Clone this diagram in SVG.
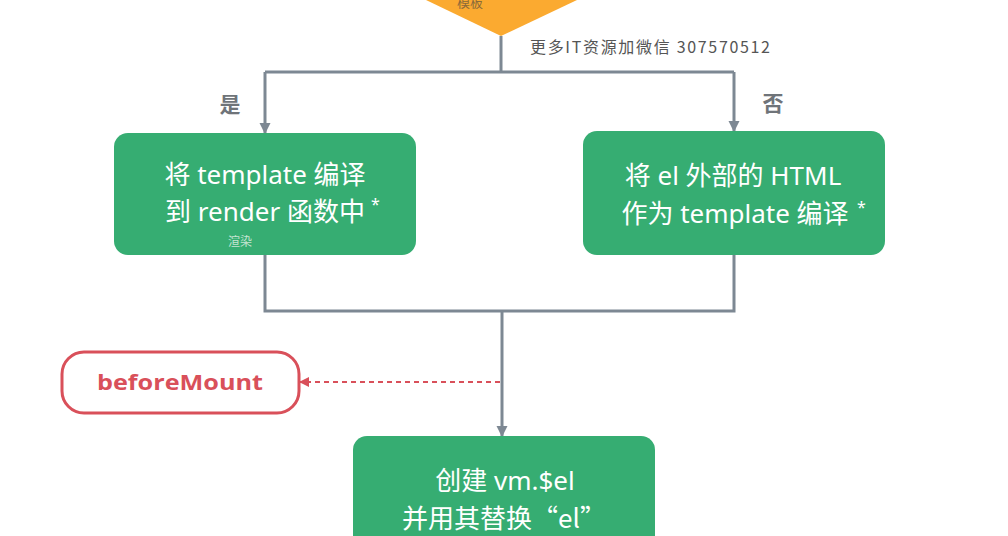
<svg xmlns="http://www.w3.org/2000/svg" width="1008" height="536" viewBox="0 0 1008 536">
<style>
.conn{fill:none;stroke:#7d8893;stroke-width:3}
.box{fill:#36ad72}
.bt{font-family:"Noto Sans","Noto Sans CJK SC",sans-serif;font-size:26px;fill:#ffffff;text-anchor:middle}
.star{font-family:"Noto Sans",sans-serif;font-size:16px;fill:#ffffff}
.lbl{font-family:"Noto Sans CJK SC",sans-serif;font-size:21px;font-weight:bold;fill:#6f7479;text-anchor:middle}
</style>
<defs>
<marker id="ag" viewBox="0 0 10 10" refX="9" refY="5" markerWidth="11" markerHeight="12" markerUnits="userSpaceOnUse" orient="auto"><path d="M0,0 L10,5 L0,10 z" fill="#7d8893"/></marker>
<marker id="ar" viewBox="0 0 10 10" refX="9" refY="5" markerWidth="10" markerHeight="11" markerUnits="userSpaceOnUse" orient="auto"><path d="M0,0 L10,5 L0,10 z" fill="#d9505a"/></marker>
</defs>
<rect width="1008" height="536" fill="#ffffff"/>
<g id="decision">
<polygon points="426,0 577,0 501,36" fill="#fbaa30"/>
<text x="470" y="7" font-family="Noto Sans CJK SC,sans-serif" font-size="13" fill="#8a6a3a" text-anchor="middle">模板</text>
</g>
<text x="530" y="53" font-family="Noto Sans CJK SC,sans-serif" font-size="16" fill="#555555" textLength="240" lengthAdjust="spacing">更多IT资源加微信 307570512</text>
<g id="connectors">
<path class="conn" d="M501,36 V72"/>
<path class="conn" d="M265,72 H734"/>
<path class="conn" d="M265,72 V133" marker-end="url(#ag)"/>
<path class="conn" d="M734,72 V131" marker-end="url(#ag)"/>
<path class="conn" d="M265,255 V311 H734 V255"/>
<path class="conn" d="M502,311 V436" marker-end="url(#ag)"/>
<path d="M500,382 H300" fill="none" stroke="#d9505a" stroke-width="2" stroke-dasharray="5,4" marker-end="url(#ar)"/>
<text x="230" y="112" class="lbl">是</text>
<text x="773" y="111" class="lbl">否</text>
</g>
<g id="left">
<rect class="box" x="114" y="133" width="302" height="122" rx="14"/>
<text class="bt" x="265" y="184">将 template 编译</text>
<text class="bt" x="265" y="221">到 render 函数中</text>
<text class="star" x="371" y="210">*</text>
<text x="240" y="246" font-family="Noto Sans CJK SC,sans-serif" font-size="12" fill="#c6e4d2" text-anchor="middle">渲染</text>
</g>
<g id="right">
<rect class="box" x="583" y="131" width="302" height="124" rx="14"/>
<text class="bt" x="733" y="185">将 el 外部的 HTML</text>
<text class="bt" x="735" y="223">作为 template 编译</text>
<text class="star" x="857" y="213">*</text>
</g>
<g id="beforeMount">
<rect x="62" y="352" width="237" height="61" rx="22" fill="#ffffff" stroke="#d9505a" stroke-width="3"/>
<text x="180" y="390" font-family="'Open Sans','Liberation Sans',sans-serif" font-size="21" font-weight="bold" fill="#d9505a" text-anchor="middle" textLength="166" lengthAdjust="spacingAndGlyphs">beforeMount</text>
</g>
<g id="create">
<rect class="box" x="353" y="436" width="302" height="120" rx="14"/>
<text class="bt" x="505" y="490">创建  vm.$el</text>
<text x="504" y="528" font-family="'Noto Sans CJK SC',sans-serif" font-size="26" fill="#ffffff" text-anchor="middle">并用其替换“el”</text>
</g>
</svg>
